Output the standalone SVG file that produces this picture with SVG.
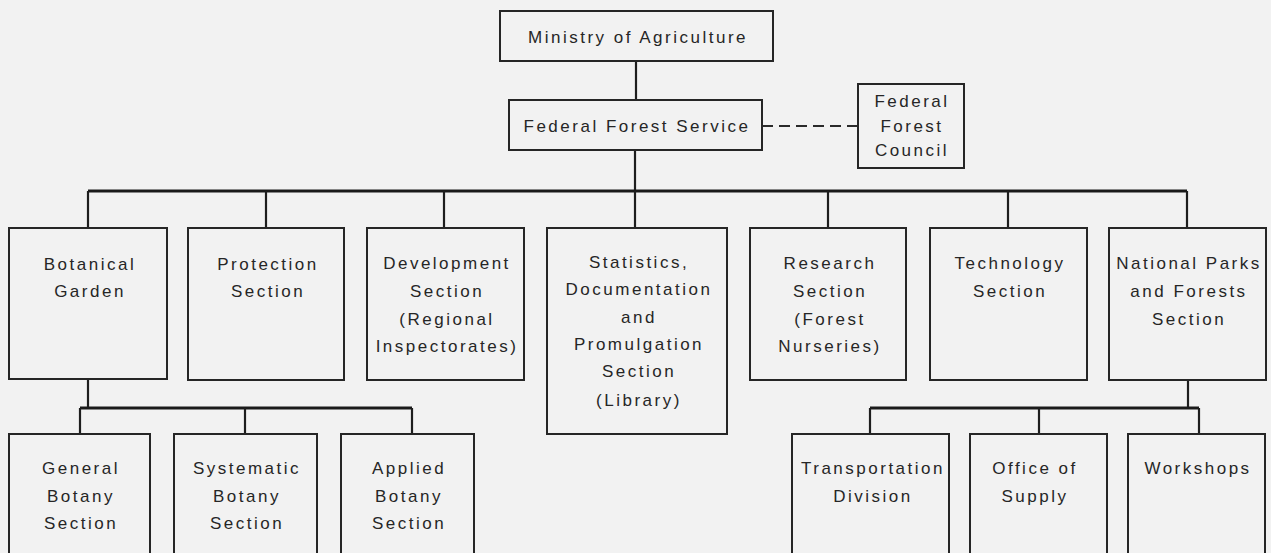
<svg xmlns="http://www.w3.org/2000/svg" width="1271" height="553" viewBox="0 0 1271 553">
  <style>
    .box { fill: none; stroke: #262626; stroke-width: 2; }
    .t { font-family: "Liberation Sans", Arial, sans-serif; font-size: 17px; letter-spacing: 2.5px; fill: #262626; text-anchor: middle; }
    .ln { stroke: #1e1e1e; stroke-width: 2.2; fill: none; }
    .thick { stroke: #1a1a1a; stroke-width: 3; fill: none; }
    .dash { stroke: #2a2a2a; stroke-width: 1.8; stroke-dasharray: 11 6; fill: none; }
  </style>
  <rect width="1271" height="553" fill="#f2f2f2"/>

  <g id="connectors">
    <line class="ln" x1="636" y1="61" x2="636" y2="100"/>
    <line class="ln" x1="635" y1="150" x2="635" y2="191"/>
    <line class="dash" x1="762" y1="126" x2="858" y2="126"/>
    <line class="thick" x1="88" y1="191" x2="1187" y2="191"/>
    <line class="ln" x1="88" y1="191" x2="88" y2="228"/>
    <line class="ln" x1="266" y1="191" x2="266" y2="228"/>
    <line class="ln" x1="444" y1="191" x2="444" y2="228"/>
    <line class="ln" x1="635" y1="191" x2="635" y2="228"/>
    <line class="ln" x1="828" y1="191" x2="828" y2="228"/>
    <line class="ln" x1="1008" y1="191" x2="1008" y2="228"/>
    <line class="ln" x1="1187" y1="191" x2="1187" y2="228"/>
    <line class="ln" x1="88" y1="379" x2="88" y2="408"/>
    <line class="thick" x1="80" y1="408" x2="412" y2="408"/>
    <line class="ln" x1="80" y1="408" x2="80" y2="434"/>
    <line class="ln" x1="245" y1="408" x2="245" y2="434"/>
    <line class="ln" x1="412" y1="408" x2="412" y2="434"/>
    <line class="ln" x1="1188" y1="380" x2="1188" y2="408"/>
    <line class="thick" x1="870" y1="408" x2="1199" y2="408"/>
    <line class="ln" x1="870" y1="408" x2="870" y2="434"/>
    <line class="ln" x1="1039" y1="408" x2="1039" y2="434"/>
    <line class="ln" x1="1199" y1="408" x2="1199" y2="434"/>
  </g>

  <g id="ministry">
    <rect class="box" x="500" y="11" width="273" height="50"/>
    <text class="t" x="638" y="43">Ministry of Agriculture</text>
  </g>
  <g id="federal-forest-service">
    <rect class="box" x="509" y="100" width="253" height="50"/>
    <text class="t" x="637" y="132">Federal Forest Service</text>
  </g>
  <g id="federal-forest-council">
    <rect class="box" x="858" y="84" width="106" height="84"/>
    <text class="t" x="912" y="107">Federal</text>
    <text class="t" x="912" y="132">Forest</text>
    <text class="t" x="912" y="156">Council</text>
  </g>
  <g id="botanical-garden">
    <rect class="box" x="9" y="228" width="158" height="151"/>
    <text class="t" x="90" y="270">Botanical</text>
    <text class="t" x="90" y="297">Garden</text>
  </g>
  <g id="protection">
    <rect class="box" x="188" y="228" width="156" height="152"/>
    <text class="t" x="268" y="270">Protection</text>
    <text class="t" x="268" y="297">Section</text>
  </g>
  <g id="development">
    <rect class="box" x="367" y="228" width="157" height="152"/>
    <text class="t" x="447" y="269">Development</text>
    <text class="t" x="447" y="297">Section</text>
    <text class="t" x="447" y="325">(Regional</text>
    <text class="t" x="447" y="352">Inspectorates)</text>
  </g>
  <g id="statistics">
    <rect class="box" x="547" y="228" width="180" height="206"/>
    <text class="t" x="639" y="268">Statistics,</text>
    <text class="t" x="639" y="295">Documentation</text>
    <text class="t" x="639" y="323">and</text>
    <text class="t" x="639" y="350">Promulgation</text>
    <text class="t" x="639" y="377">Section</text>
    <text class="t" x="639" y="406">(Library)</text>
  </g>
  <g id="research">
    <rect class="box" x="750" y="228" width="156" height="152"/>
    <text class="t" x="830" y="269">Research</text>
    <text class="t" x="830" y="297">Section</text>
    <text class="t" x="830" y="325">(Forest</text>
    <text class="t" x="830" y="352">Nurseries)</text>
  </g>
  <g id="technology">
    <rect class="box" x="930" y="228" width="157" height="152"/>
    <text class="t" x="1010" y="269">Technology</text>
    <text class="t" x="1010" y="297">Section</text>
  </g>
  <g id="national-parks">
    <rect class="box" x="1109" y="228" width="157" height="152"/>
    <text class="t" x="1189" y="269">National Parks</text>
    <text class="t" x="1189" y="297">and Forests</text>
    <text class="t" x="1189" y="325">Section</text>
  </g>
  <g id="general-botany">
    <rect class="box" x="9" y="434" width="141" height="130"/>
    <text class="t" x="81" y="474">General</text>
    <text class="t" x="81" y="502">Botany</text>
    <text class="t" x="81" y="529">Section</text>
  </g>
  <g id="systematic-botany">
    <rect class="box" x="174" y="434" width="143" height="130"/>
    <text class="t" x="247" y="474">Systematic</text>
    <text class="t" x="247" y="502">Botany</text>
    <text class="t" x="247" y="529">Section</text>
  </g>
  <g id="applied-botany">
    <rect class="box" x="341" y="434" width="133" height="130"/>
    <text class="t" x="409" y="474">Applied</text>
    <text class="t" x="409" y="502">Botany</text>
    <text class="t" x="409" y="529">Section</text>
  </g>
  <g id="transportation">
    <rect class="box" x="792" y="434" width="157" height="130"/>
    <text class="t" x="873" y="474">Transportation</text>
    <text class="t" x="873" y="502">Division</text>
  </g>
  <g id="office-of-supply">
    <rect class="box" x="970" y="434" width="137" height="130"/>
    <text class="t" x="1035" y="474">Office of</text>
    <text class="t" x="1035" y="502">Supply</text>
  </g>
  <g id="workshops">
    <rect class="box" x="1128" y="434" width="137" height="130"/>
    <text class="t" x="1198" y="474">Workshops</text>
  </g>
</svg>
